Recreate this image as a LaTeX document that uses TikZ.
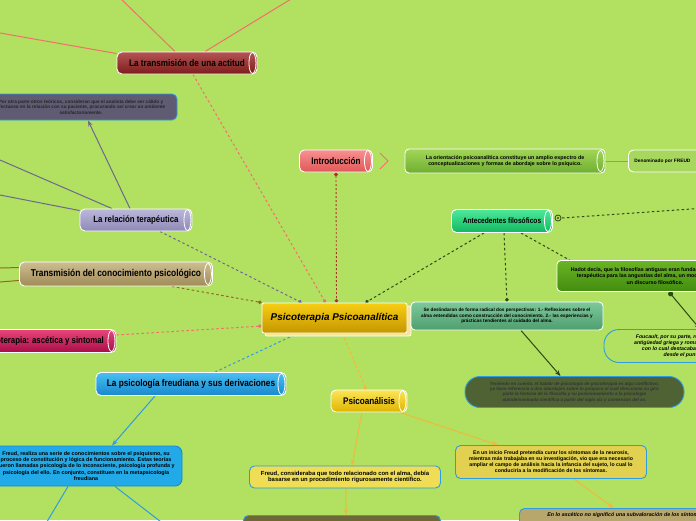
\documentclass[tikz,border=0pt]{standalone}
\usepackage{fontspec}
\setmainfont{Liberation Sans}
\newfontfamily\tubefont[FakeStretch=0.85]{Liberation Sans}
\usetikzlibrary{arrows.meta, positioning, calc}
\definecolor{mBack}{HTML}{B2E061}
\definecolor{mSalmon}{HTML}{F2706C}
\definecolor{mSky}{HTML}{2E9CE0}
\definecolor{mLilac}{HTML}{6C6890}
\definecolor{mBrown}{HTML}{8C6A28}
\definecolor{mOlive}{HTML}{2E4A12}
\definecolor{mGold}{HTML}{F2B83C}
\definecolor{mDarkRed}{HTML}{B0302A}
\definecolor{mSlate}{HTML}{5E5B72}
% degradados de los tubos
\definecolor{actA}{HTML}{B65454}\definecolor{actB}{HTML}{7D1C1C}
\definecolor{intA}{HTML}{F89090}\definecolor{intB}{HTML}{E05858}
\definecolor{relA}{HTML}{BCB8DC}\definecolor{relB}{HTML}{8E89B5}
\definecolor{antA}{HTML}{4EE89A}\definecolor{antB}{HTML}{10B860}
\definecolor{traA}{HTML}{CDBE90}\definecolor{traB}{HTML}{A08A58}
\definecolor{ascA}{HTML}{E8457A}\definecolor{ascB}{HTML}{A80C48}
\definecolor{psfA}{HTML}{48C0F4}\definecolor{psfB}{HTML}{1888CC}
\definecolor{psaA}{HTML}{FAE656}\definecolor{psaB}{HTML}{E0B400}
\definecolor{cenA}{HTML}{F8CE14}\definecolor{cenB}{HTML}{C49600}
\definecolor{cenShadow}{HTML}{F3E496}
% notas
\definecolor{oriA}{HTML}{A2D658}\definecolor{oriB}{HTML}{6FAE30}
\definecolor{denFill}{HTML}{A7D75E}
\definecolor{hadA}{HTML}{6AB424}\definecolor{hadB}{HTML}{438C10}
\definecolor{desA}{HTML}{7CC898}\definecolor{desB}{HTML}{4F9E70}
\definecolor{tenFill}{HTML}{4E6233}
\definecolor{frbFill}{HTML}{22AAE8}\definecolor{frbLine}{HTML}{1A88D0}
\definecolor{fryFill}{HTML}{EEDD55}
\definecolor{iniFill}{HTML}{E2D050}
\definecolor{oscFill}{HTML}{6E6838}
\definecolor{ascFill}{HTML}{B8A76C}
\pgfdeclarelayer{paper}
\pgfdeclarelayer{lines}
\pgfsetlayers{paper,lines,main}

\begin{document}
\begin{tikzpicture}[x=1pt, y=-1pt,
  every node/.style={text=black},
  tube/.style={rectangle, rounded corners=5pt, draw=white, line width=0.9pt,
               minimum height=22pt, inner sep=1pt,
               font=\tubefont\bfseries\fontsize{9.6}{11}\selectfont},
  note/.style={rectangle, rounded corners=5pt, draw=mSky, line width=0.9pt,
               align=center, inner sep=1pt,
               font=\bfseries\fontsize{5.3}{6.2}\selectfont},
  gloss/.style={rectangle, rounded corners=4pt, draw=white, line width=0.9pt,
                align=center, inner sep=1pt,
                font=\bfseries\fontsize{5.3}{6.2}\selectfont},
  link/.style={line width=1pt},
  dlink/.style={line width=1pt, dash pattern=on 2.5pt off 2.5pt},
  tip/.style={-{Stealth[length=6pt,width=4.5pt]}},
  dot/.style={-{Circle[length=3.5pt]}}
]
\useasboundingbox (0,0) rectangle (696,520);
\begin{pgfonlayer}{paper}
  \fill[mBack] (0,0) rectangle (696,520);
\end{pgfonlayer}

% ramas principales
\node[tube, minimum width=140pt, top color=actA, bottom color=actB] (actitud) at (187,63) {La transmisión de una actitud};
\node[tube, minimum width=73pt, top color=intA, bottom color=intB] (intro) at (336,161) {Introducción};
\node[tube, minimum width=112pt, top color=relA, bottom color=relB, font=\tubefont\bfseries\fontsize{9.2}{11}\selectfont] (relacion) at (136,220) {La relación terapéutica};
\node[tube, minimum width=101pt, minimum height=23pt, top color=antA, bottom color=antB, font=\tubefont\bfseries\fontsize{7.8}{9}\selectfont] (antec) at (502,221) {Antecedentes filosóficos};
\node[tube, minimum width=193pt, minimum height=24pt, top color=traA, bottom color=traB, font=\tubefont\bfseries\fontsize{9.9}{11}\selectfont] (transm) at (116,274) {Transmisión del conocimiento psicológico};
\node[tube, minimum width=148pt, minimum height=23pt, top color=ascA, bottom color=ascB, font=\tubefont\bfseries\fontsize{9.2}{11}\selectfont] (ascet) at (42,341) {Psicoterapia: ascética y sintomal};
\node[tube, minimum width=190pt, minimum height=23pt, top color=psfA, bottom color=psfB, font=\tubefont\bfseries\fontsize{9.7}{11}\selectfont] (psifreud) at (191,384) {La psicología freudiana y sus derivaciones};
\node[tube, minimum width=76pt, top color=psaA, bottom color=psaB] (psicoan) at (369,401) {Psicoanálisis};

% tema central
\fill[cenShadow, draw=white, line width=0.8pt, rounded corners=2pt] (265,306) rectangle (411,336);
\node[rectangle, rounded corners=2pt, draw=white, line width=0.9pt, minimum width=145pt, minimum height=30pt,
      top color=cenA, bottom color=cenB,
      font=\bfseries\itshape\fontsize{9.9}{11}\selectfont] (central) at (334.5,318) {Psicoterapia Psicoanalítica};

% notas
\node[gloss, minimum width=200pt, minimum height=24pt, top color=oriA, bottom color=oriB] (orient) at (505,161)
  {La orientación psicoanalítica constituye un amplio espectro de\\ conceptualizaciones y formas de abordaje sobre lo psíquico.};
\node[gloss, rounded corners=5pt, anchor=west, minimum width=80pt, minimum height=22pt, fill=denFill, font=\bfseries\fontsize{4.8}{5.6}\selectfont] (denom) at (628,161) {Denominado por FREUD\hspace{12pt}};
\node[note, fill=mSlate, minimum width=192pt, minimum height=26pt, font=\bfseries\fontsize{4.7}{5.6}\selectfont, text=black!85] (otros) at (81,107)
  {Por otra parte otros teóricos, consideran que el analista debe ser cálido y\\ afectuoso en la relación  con su paciente, procurando así crear un ambiente\\ satisfactoriamente.};
\node[gloss, minimum width=196pt, minimum height=31pt, top color=hadA, bottom color=hadB] (hadot) at (655,276)
  {Hadot decía, que la filosofías antiguas eran fundamentalmente una\\ terapéutica para las angustias del alma, un modo de vida y no\\ un discurso filosófico.};
\node[note, rounded corners=15pt, minimum width=192pt, minimum height=33pt, font=\bfseries\itshape\fontsize{5.2}{6}\selectfont] (foucault) at (700,346)
  {Foucault, por su parte, resaltó el cuidado de sí en la\\ antigüedad griega y romana como práctica filosófica,\\ con lo cual destacaban la importancia del alma\\ desde el punto de vista ético.};
\node[gloss, minimum width=192pt, minimum height=28pt, top color=desA, bottom color=desB, font=\bfseries\fontsize{4.7}{5.6}\selectfont] (deslind) at (507,316)
  {Se deslindaron de forma radical dos perspectivas: 1.- Reflexiones sobre el\\ alma entendidas como construcción del conocimiento. 2.- las experiencias y\\ prácticas tendientes al cuidado del alma.};
\node[note, rounded corners=15pt, minimum width=219pt, minimum height=31pt, fill=tenFill, font=\bfseries\itshape\fontsize{4.5}{5.4}\selectfont, text=black!80] (teniendo) at (574.5,392)
  {Teniendo en cuenta, el hablar de psicología de psicoterapia es algo conflictivo,\\ ya hace referencia a dos abordajes sobre lo psíquico el cual direcciona su giro\\ parte la historia de la filosofía y su posicionamiento a la psicología\\ autodenominada científica a partir del siglo xix y comienzos del xx.};
\node[note, rounded corners=7pt, minimum width=192pt, minimum height=40pt, fill=frbFill, draw=frbLine, font=\bfseries\fontsize{5.4}{6.2}\selectfont] (freudBlue) at (86,466)
  {Freud, realiza una serie de conocimientos sobre el psiquismo, su\\ proceso de constitución y lógica de funcionamiento. Estas teorías\\ fueron llamadas psicología de lo inconsciente, psicología profunda y\\ psicología del ello. En conjunto, constituen en la metapsicología\\ freudiana};
\node[note, minimum width=191pt, minimum height=22pt, fill=fryFill, font=\bfseries\fontsize{5.9}{6.8}\selectfont] (freudYellow) at (345,477)
  {Freud, consideraba que todo relacionado con el alma, debía\\ basarse en un procedimiento rigurosamente científico.};
\node[note, minimum width=191pt, minimum height=33pt, fill=iniFill, font=\bfseries\fontsize{5.2}{6}\selectfont] (inicio) at (551,462)
  {En un inicio Freud pretendía curar los síntomas de la neurosis,\\ mientras más trabajaba en su investigación, vio que era necesario\\ ampliar el campo de análisis hacia la infancia del sujeto, lo cual lo\\ conduciría a la modificación de los síntomas.};
\node[note, anchor=north west, minimum width=197pt, minimum height=30pt, fill=oscFill] (oscuro) at (243,515) {};
\node[note, anchor=north west, inner xsep=28pt, inner ysep=4pt, text depth=30pt, fill=ascFill, font=\bfseries\itshape\fontsize{5.3}{6.2}\selectfont] (ascbox) at (519,508)
  {En lo ascético no significó una subvaloración de los síntomas,};

% tapas de los tubos
\foreach \n in {actitud,intro,relacion,antec,transm,ascet,psifreud,psicoan,orient}
  \draw[white, line width=0.8pt] ([xshift=-5pt]\n.east) ellipse [x radius=3.5pt, y radius=10.5pt];

% plegar y marcador
\draw[mSalmon, line width=1pt] (380,153) -- (388,161) -- (380,169);
\draw[mOlive, line width=0.8pt, fill=mBack] (558,218) circle (3pt);
\fill[mOlive] (558,218) circle (1.2pt);

\coordinate (lA) at (0,33);
\coordinate (lB) at (118,-4);
\coordinate (lC) at (296,-4);
\coordinate (lD) at (0,195);
\coordinate (lE) at (0,160);
\coordinate (lF) at (0,268);
\coordinate (lG) at (0,282);
\coordinate (lH) at (45,525);
\coordinate (lI) at (165,525);
\coordinate (lJ) at (720,207);

\begin{pgfonlayer}{lines}
% la transmision de una actitud
\draw[link, mSalmon] ([yshift=-2pt]actitud.north west) -- (lA);
\draw[link, mSalmon] ([xshift=-12pt]actitud.north) -- (lB);
\draw[link, mSalmon] ([xshift=18pt]actitud.north) -- (lC);
\draw[dlink, dot, mSalmon] ([xshift=6pt]actitud.south) -- ([xshift=-9pt]central.north);
% relacion terapeutica
\draw[link, mLilac] ([yshift=-2pt]relacion.north west) -- (lD);
\draw[link, mLilac] ([xshift=-24pt]relacion.north) -- (lE);
\draw[link, mLilac, tip] ([xshift=-6pt]relacion.north) -- ([xshift=7pt]otros.south);
\draw[dlink, dot, mLilac] ([xshift=24pt]relacion.south) -- ([xshift=-33pt]central.north);
% transmision del conocimiento
\draw[link, mBrown] ([yshift=-6pt]transm.north west) -- (lF);
\draw[link, mBrown] ([yshift=6pt]transm.south west) -- (lG);
\draw[dlink, dot, mBrown] ([xshift=56pt]transm.south) -- (central.north west);
% ascetica y sintomal
\draw[dlink, dot, mSalmon] ([yshift=6pt]ascet.east) -- ([yshift=-8pt]central.west);
% psicologia freudiana
\draw[dlink, dot, mSky] ([xshift=24pt]psifreud.north) -- ([xshift=-37pt]central.south);
\draw[link, mSky, tip] ([xshift=-36pt]psifreud.south) -- ([xshift=26pt]freudBlue.north);
\draw[link, mSky] ([xshift=-18pt]freudBlue.south) -- (lH);
\draw[link, mSky] ([xshift=29pt]freudBlue.south) -- (lI);
% introduccion
\draw[mDarkRed, line width=0.9pt, dash pattern=on 2pt off 2pt, {Circle[length=4pt]}-{Circle[length=3.5pt]}] (intro.south) -- ([xshift=2pt]central.north);
\draw[link, mSalmon] (orient.east) -- (denom.west);
% antecedentes
\draw[dlink, mOlive] (562,218) -- (lJ);
\draw[dlink, dot, mOlive] ([xshift=-18pt]antec.south) -- ([xshift=31pt]central.north);
\draw[dlink, dot, mOlive] ([xshift=2pt]antec.south) -- (deslind.north);
\draw[dlink, mOlive] ([xshift=19pt]antec.south) -- ([xshift=13pt]hadot.north west);
\draw[link, mOlive, {Circle[length=5pt]}-{Stealth[length=6pt,width=4.5pt]}] ([xshift=14pt]hadot.south) -- ([xshift=0pt]foucault.north);
\draw[link, mOlive, tip] ([xshift=14pt]deslind.south) -- ([xshift=-14pt]teniendo.north);
% psicoanalisis
\draw[dlink, dot, mGold] ([xshift=8pt]central.south) -- ([xshift=-3pt]psicoan.north);
\draw[link, mGold, tip] ([xshift=-7pt]psicoan.south) -- ([xshift=7pt]freudYellow.north);
\draw[link, mGold, tip] ([xshift=31pt]psicoan.south) -- ([xshift=-53pt]inicio.north);
\draw[link, mGold, tip] ([xshift=1pt]freudYellow.south) -- ([xshift=4pt]oscuro.north);
\draw[link, mGold, tip] ([xshift=23pt]inicio.south) -- ([xshift=-13pt]ascbox.north);
\end{pgfonlayer}
\end{tikzpicture}
\end{document}
